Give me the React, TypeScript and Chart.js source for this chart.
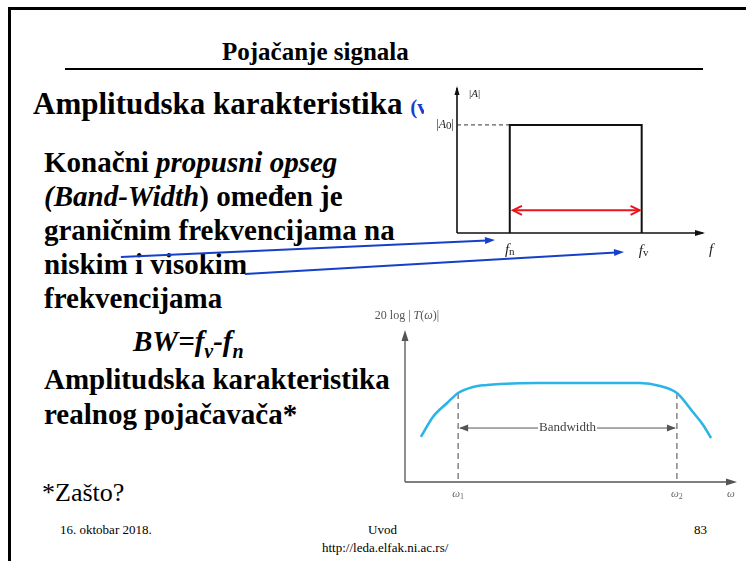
import React, { useEffect, useRef } from 'react';
import { Chart, registerables } from 'chart.js';
Chart.register(...registerables);

// ---------- ideal amplifier (top chart) ----------
const idealX = [2, 2, 7, 7];
const idealY = [0, 1, 1, 0];
const idealXMax = 9.4;
const idealYMax = 1.36;
const a0DashX = [0, 2];
const a0DashY = [1, 1];
const redArrowX = [2.12, 6.92];
const redArrowY = [0.21, 0.21];
const blueFromX = [-12.74, -8.04];
const blueFromY = [-0.222, -0.38];
const blueToX = [1.44, 6.33];
const blueToY = [-0.065, -0.176];

// ---------- real amplifier (bottom chart) ----------
const realX = [0.48, 0.84, 1.27, 1.6, 2.05, 2.47, 2.86, 4, 5, 6, 7.08, 7.68, 8.19, 8.67, 8.98, 9.22];
const realY = [4.55, 6.57, 7.98, 8.99, 9.6, 9.8, 9.9, 10, 10, 10, 10, 9.7, 8.99, 7.07, 5.76, 4.44];
const realXMax = 10;
const realYMax = 15.35;
const cutoffX = [1.6, 8.19];
const cutoffY = [8.99, 8.99];
const bandwidthY = 5.45;

const SERIF = '"Liberation Serif", "Times New Roman", serif';

type Seg = [string, string, number?];
function drawSegs(ctx: CanvasRenderingContext2D, segs: Seg[], x: number, y: number, align: string, color: string) {
  const widths = segs.map((s) => { ctx.font = s[1]; return ctx.measureText(s[0]).width; });
  const total = widths.reduce((a, b) => a + b, 0);
  let cx = align === 'left' ? x : align === 'center' ? x - total / 2 : x - total;
  ctx.save();
  ctx.textBaseline = 'middle';
  ctx.textAlign = 'left';
  ctx.fillStyle = color;
  segs.forEach((s, i) => { ctx.font = s[1]; ctx.fillText(s[0], cx, y + (s[2] || 0)); cx += widths[i]; });
  ctx.restore();
}

function head(ctx: CanvasRenderingContext2D, x: number, y: number, ang: number, len: number, hw: number, color: string, filled: boolean, lw = 1) {
  ctx.save();
  ctx.translate(x, y);
  ctx.rotate(ang);
  ctx.beginPath();
  ctx.moveTo(-len, -hw);
  ctx.lineTo(0, 0);
  ctx.lineTo(-len, hw);
  if (filled) { ctx.closePath(); ctx.fillStyle = color; ctx.fill(); }
  else { ctx.strokeStyle = color; ctx.lineWidth = lw; ctx.stroke(); }
  ctx.restore();
}

function pts(xs: number[], ys: number[]) { return xs.map((x, i) => ({ x, y: ys[i] })); }

const idealPlugin = {
  id: 'idealDecor',
  beforeDatasetsDraw(chart: any) {
    const { ctx, scales: { x, y }, width } = chart;
    ctx.save();
    ctx.fillStyle = '#ffffff';
    ctx.fillRect(324, 0, width - 324, 190);
    const x0 = x.getPixelForValue(0), y0 = y.getPixelForValue(0);
    const xe = x.getPixelForValue(idealXMax), ye = y.getPixelForValue(idealYMax);
    ctx.strokeStyle = '#111';
    ctx.lineWidth = 1.6;
    ctx.beginPath();
    ctx.moveTo(x0, y0); ctx.lineTo(x0, ye + 2);
    ctx.moveTo(x0, y0); ctx.lineTo(xe - 2, y0);
    ctx.stroke();
    head(ctx, x0, ye, -Math.PI / 2, 9, 2.5, '#111', true);
    head(ctx, xe, y0, 0, 10, 3, '#111', true);
    ctx.restore();
  },
  afterDatasetsDraw(chart: any) {
    const { ctx, scales: { x, y } } = chart;
    const x0 = x.getPixelForValue(0), y0 = y.getPixelForValue(0);
    const red = '#e8161c';
    const ra = x.getPixelForValue(redArrowX[0]), rb = x.getPixelForValue(redArrowX[1]);
    const ry = y.getPixelForValue(redArrowY[0]);
    head(ctx, ra, ry, Math.PI, 9, 4.5, red, false, 2);
    head(ctx, rb, ry, 0, 9, 4.5, red, false, 2);
    const c = '#222';
    drawSegs(ctx, [['|', `11px ${SERIF}`], ['A', `italic 11px ${SERIF}`], ['|', `11px ${SERIF}`]], x0 + 12, y.getPixelForValue(idealYMax) + 8, 'left', c);
    drawSegs(ctx, [['|', `12px ${SERIF}`], ['A', `italic 12px ${SERIF}`], ['0', `11px ${SERIF}`, 1], ['|', `12px ${SERIF}`]], x0 - 3, y.getPixelForValue(a0DashY[0]), 'right', c);
    drawSegs(ctx, [['f', `italic 15px ${SERIF}`], ['n', `11px ${SERIF}`, 2]], x.getPixelForValue(idealX[0]), y0 + 17, 'center', c);
    drawSegs(ctx, [['f', `italic 15px ${SERIF}`], ['v', `11px ${SERIF}`, 2]], x.getPixelForValue(idealX[2]) + 2, y0 + 18, 'center', c);
    drawSegs(ctx, [['f', `italic 15px ${SERIF}`]], x.getPixelForValue(idealXMax) + 6, y0 + 17, 'center', c);
    // blue pointers from the text
    const blue = '#1640c8';
    for (let i = 0; i < blueFromX.length; i++) {
      const ax = x.getPixelForValue(blueFromX[i]), ay = y.getPixelForValue(blueFromY[i]);
      const bx = x.getPixelForValue(blueToX[i]), by = y.getPixelForValue(blueToY[i]);
      const ang = Math.atan2(by - ay, bx - ax);
      ctx.save();
      ctx.strokeStyle = blue; ctx.lineWidth = 2;
      ctx.beginPath(); ctx.moveTo(ax, ay); ctx.lineTo(bx - 8 * Math.cos(ang), by - 8 * Math.sin(ang)); ctx.stroke();
      ctx.restore();
      head(ctx, bx, by, ang, 10, 3.5, blue, true);
    }
  },
};

const realPlugin = {
  id: 'realDecor',
  beforeDatasetsDraw(chart: any) {
    const { ctx, scales: { x, y } } = chart;
    const g = '#555';
    const x0 = x.getPixelForValue(0), y0 = y.getPixelForValue(0);
    const xe = x.getPixelForValue(realXMax), ye = y.getPixelForValue(realYMax);
    ctx.save();
    ctx.strokeStyle = g; ctx.lineWidth = 1.3;
    ctx.beginPath();
    ctx.moveTo(x0, y0); ctx.lineTo(x0, ye + 6);
    ctx.moveTo(x0, y0); ctx.lineTo(xe - 6, y0);
    ctx.stroke();
    head(ctx, x0, ye, -Math.PI / 2, 11, 3.5, g, true);
    head(ctx, xe, y0, 0, 11, 3.5, g, true);
    ctx.setLineDash([6, 4]);
    ctx.lineWidth = 1.2;
    ctx.strokeStyle = '#666';
    cutoffX.forEach((cx, i) => {
      const px = x.getPixelForValue(cx);
      ctx.beginPath(); ctx.moveTo(px, y.getPixelForValue(cutoffY[i])); ctx.lineTo(px, y0); ctx.stroke();
    });
    ctx.setLineDash([]);
    const a = x.getPixelForValue(cutoffX[0]), b = x.getPixelForValue(cutoffX[1]);
    const by = y.getPixelForValue(bandwidthY);
    ctx.font = `13px ${SERIF}`;
    const tw = ctx.measureText('Bandwidth').width;
    const mid = (a + b) / 2;
    ctx.strokeStyle = g; ctx.lineWidth = 1;
    ctx.beginPath();
    ctx.moveTo(a + 2, by); ctx.lineTo(mid - tw / 2 - 1, by);
    ctx.moveTo(mid + tw / 2 + 1, by); ctx.lineTo(b - 2, by);
    ctx.stroke();
    head(ctx, a + 1, by, Math.PI, 9, 3.5, g, true);
    head(ctx, b - 1, by, 0, 9, 3.5, g, true);
    ctx.restore();
    drawSegs(ctx, [['Bandwidth', `13px ${SERIF}`]], mid, by, 'center', '#444');
    const lc = '#666';
    drawSegs(ctx, [['20 log | ', `12px ${SERIF}`], ['T', `italic 12px ${SERIF}`], ['(', `12px ${SERIF}`], ['ω', `italic 12px ${SERIF}`], [')|', `12px ${SERIF}`]], x0 + 2, ye - 14, 'center', '#555');
    drawSegs(ctx, [['ω', `italic 11px ${SERIF}`], ['1', `8px ${SERIF}`, 3]], a, y0 + 12, 'center', lc);
    drawSegs(ctx, [['ω', `italic 11px ${SERIF}`], ['2', `8px ${SERIF}`, 3]], b, y0 + 12, 'center', lc);
    drawSegs(ctx, [['ω', `italic 11px ${SERIF}`]], xe - 6, y0 + 12, 'center', lc);
  },
};

function IdealChart() {
  const ref = useRef<HTMLCanvasElement>(null);
  useEffect(() => {
    const chart = new Chart(ref.current!, {
      type: 'scatter',
      data: {
        datasets: [
          { data: pts(idealX, idealY), showLine: true, borderColor: '#111', borderWidth: 2, pointRadius: 0, tension: 0 },
          { data: pts(a0DashX, a0DashY), showLine: true, borderColor: '#333', borderWidth: 1, borderDash: [4, 3], pointRadius: 0 },
          { data: pts(redArrowX, redArrowY), showLine: true, borderColor: '#e8161c', borderWidth: 2, pointRadius: 0 },
        ],
      },
      options: {
        animation: false,
        responsive: true,
        maintainAspectRatio: false,
        layout: { padding: { left: 357, right: 41, top: 8, bottom: 57 } },
        scales: {
          x: { type: 'linear', display: false, min: 0, max: idealXMax },
          y: { type: 'linear', display: false, min: 0, max: idealYMax },
        },
        plugins: { legend: { display: false }, tooltip: { enabled: false } },
      },
      plugins: [idealPlugin],
    });
    return () => chart.destroy();
  }, []);
  return (
    <div style={{ position: 'absolute', left: 100, top: 78, width: 646, height: 212 }}>
      <canvas ref={ref} />
    </div>
  );
}

function RealChart() {
  const ref = useRef<HTMLCanvasElement>(null);
  useEffect(() => {
    const chart = new Chart(ref.current!, {
      type: 'scatter',
      data: {
        datasets: [
          { data: pts(realX, realY), showLine: true, borderColor: '#2bb4e6', borderWidth: 2.6, pointRadius: 0, cubicInterpolationMode: 'monotone' },
        ],
      },
      options: {
        animation: false,
        responsive: true,
        maintainAspectRatio: false,
        layout: { padding: { left: 65, right: 9, top: 30, bottom: 28 } },
        scales: {
          x: { type: 'linear', display: false, min: 0, max: realXMax },
          y: { type: 'linear', display: false, min: 0, max: realYMax },
        },
        plugins: { legend: { display: false }, tooltip: { enabled: false } },
      },
      plugins: [realPlugin],
    });
    return () => chart.destroy();
  }, []);
  return (
    <div style={{ position: 'absolute', left: 340, top: 300, width: 406, height: 210 }}>
      <canvas ref={ref} />
    </div>
  );
}

const line = (top: number, left: number, size: number): React.CSSProperties => ({
  position: 'absolute', left, top, fontSize: size, lineHeight: '34px', fontWeight: 'bold', whiteSpace: 'nowrap', color: '#000', fontFamily: SERIF,
});
const plain = (top: number, left: number, size: number, lh: number): React.CSSProperties => ({
  position: 'absolute', left, top, fontSize: size, lineHeight: `${lh}px`, whiteSpace: 'nowrap', color: '#000', fontFamily: SERIF,
});

export default function App() {
  return (
    <div style={{ position: 'absolute', left: 0, top: 0, width: 746, height: 561, background: '#fff', overflow: 'hidden', fontFamily: SERIF }}>
      <div style={{ position: 'absolute', left: 8, top: 7, width: 740, height: 560, borderTop: '3px solid #000', borderLeft: '3px solid #000' }} />
      <div style={{ ...line(38, 222, 25), lineHeight: '28px' }}>Pojačanje signala</div>
      <div style={{ position: 'absolute', left: 65, top: 68, width: 638, height: 2, background: '#000' }} />
      <div style={line(87, 33, 31)}>Amplitudska karakteristika <span style={{ color: '#1a3cd0', fontSize: 21 }}>(v</span></div>
      <div style={line(145, 44, 29)}>Konačni <i>propusni opseg</i></div>
      <div style={line(179, 44, 29)}><i>(Band-Width</i>) omeđen je</div>
      <div style={line(213, 44, 29)}>graničnim frekvencijama na</div>
      <div style={line(247, 44, 29)}>niskim i visokim</div>
      <div style={line(281, 44, 29)}>frekvencijama</div>
      <div style={line(324, 133, 29)}><i>BW=f<sub style={{ fontSize: 20 }}>v</sub>-f<sub style={{ fontSize: 20 }}>n</sub></i></div>
      <div style={line(362, 44, 29)}>Amplitudska karakteristika</div>
      <div style={line(397, 44, 29)}>realnog pojačavača*</div>
      <div style={plain(478, 42, 26, 30)}>*Zašto?</div>
      <div style={plain(522, 60, 13, 16)}>16. oktobar 2018.</div>
      <div style={plain(522, 368, 13, 16)}>Uvod</div>
      <div style={plain(522, 694, 13, 16)}>83</div>
      <div style={plain(540, 322, 13, 16)}>http://leda.elfak.ni.ac.rs/</div>
      <IdealChart />
      <RealChart />
    </div>
  );
}
